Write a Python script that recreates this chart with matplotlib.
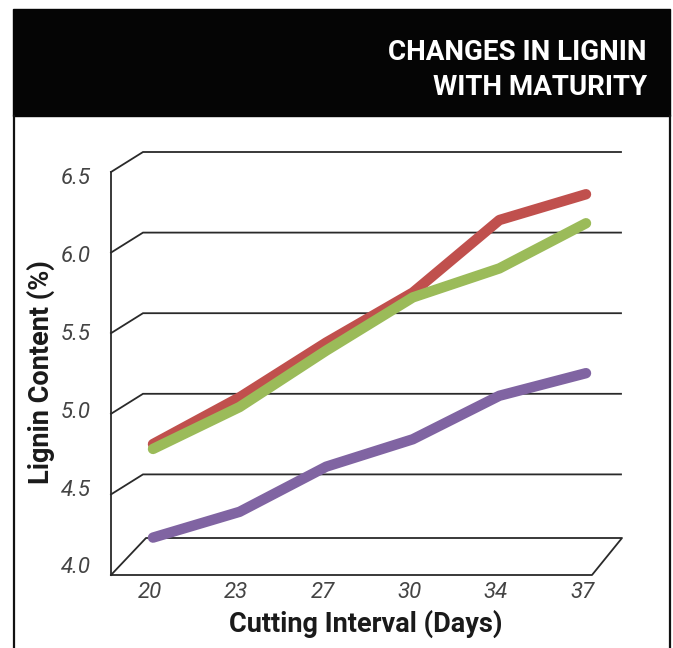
import matplotlib
matplotlib.use("Agg")
import matplotlib.pyplot as plt
from matplotlib.patches import Rectangle
from matplotlib.lines import Line2D

# ---- data ----
intervals = ["20", "23", "27", "30", "34", "37"]
red_vals = [4.75, 5.04, 5.38, 5.69, 6.14, 6.30]
green_vals = [4.72, 4.98, 5.33, 5.66, 5.84, 6.12]
purple_vals = [4.17, 4.33, 4.61, 4.78, 5.05, 5.19]
yticks = [4.0, 4.5, 5.0, 5.5, 6.0, 6.5]
title_lines = ["CHANGES IN LIGNIN", "WITH MATURITY"]
xlabel = "Cutting Interval (Days)"
ylabel = "Lignin Content (%)"

W, H = 673, 648
fig = plt.figure(figsize=(W / 100, H / 100), dpi=100)
fig.patch.set_facecolor("white")

BOLD = ["Liberation Sans Narrow", "Roboto", "DejaVu Sans"]
TICK = ["Roboto", "DejaVu Sans"]

# pixel mapping for the (mid-depth) data plane
x0_px, dx_px = 153.0, 86.6       # x pixel of category 0, px per category
y4_px, dy_px = 565.0, 161.2      # y pixel of value 4.0, px per unit
xlim = (-0.6, 5.6)
ylim = (3.85, 6.65)
left_px = x0_px + xlim[0] * dx_px
right_px = x0_px + xlim[1] * dx_px
bot_px = y4_px - (ylim[0] - 4.0) * dy_px
top_px = y4_px - (ylim[1] - 4.0) * dy_px
ax = fig.add_axes([left_px / W, (H - bot_px) / H,
                   (right_px - left_px) / W, (bot_px - top_px) / H])
ax.set_xlim(*xlim)
ax.set_ylim(*ylim)
ax.axis("off")

# depth offsets (data units)
fx = -3.5 / dx_px                 # front plane shift
fy = -10.0 / dy_px
by = 10.0 / dy_px                 # back plane shift
x_front_left = (111 - x0_px) / dx_px
x_back_left = (143 - x0_px) / dx_px
x_back_right = (621 - x0_px) / dx_px
x_floor_front_right = (592 - x0_px) / dx_px
x_floor_back_right = (622 - x0_px) / dx_px
x_floor_back_left = (146 - x0_px) / dx_px
floor_back = 4.0 + (y4_px - 538) / dy_px

gc = "#2a2a2a"
glw = 1.3
# wall grid
for v in yticks[1:]:
    ax.plot([x_front_left, x_back_left, x_back_right],
            [v + fy, v + by, v + by], color=gc, lw=glw,
            solid_joinstyle="miter", clip_on=False, zorder=1)
# floor
ax.plot([x_front_left, x_floor_front_right, x_floor_back_right, x_floor_back_left, x_front_left],
        [4.0 + fy, 4.0 + fy, floor_back, floor_back, 4.0 + fy],
        color=gc, lw=glw, clip_on=False, zorder=1)
# front-left vertical axis
ax.plot([x_front_left, x_front_left], [4.0 + fy, 6.5 + fy], color=gc, lw=glw,
        clip_on=False, zorder=1)

# series
xs = list(range(len(intervals)))
for vals, col in [(red_vals, "#C0504D"), (green_vals, "#9BBB59"), (purple_vals, "#8064A2")]:
    ax.plot(xs, vals, color=col, lw=7.5, solid_capstyle="round",
            solid_joinstyle="round", zorder=3, clip_on=False)

# tick labels
for v in yticks:
    yd = 3.9814 + 0.9677 * (v - 4.0)
    ax.text(x_front_left - 20 / dx_px, yd, f"{v:.1f}", ha="right", va="center",
            fontsize=16, style="italic", fontweight="normal", family=TICK,
            color="#444444", clip_on=False)
for i, lab in enumerate(intervals):
    ax.text(i + fx, 4.0 - (593 - y4_px) / dy_px, lab, ha="center", va="center",
            fontsize=16, style="italic", fontweight="normal", family=TICK,
            color="#444444", clip_on=False)

# header bar and frame
fig.add_artist(Rectangle((13 / W, (H - 116) / H), (670 - 13) / W, (116 - 9) / H,
                         transform=fig.transFigure, color="#050505", zorder=0))
for xp in (14, 669.5):
    fig.add_artist(Line2D([xp / W, xp / W], [0, (H - 116) / H],
                          transform=fig.transFigure, color="#111111", lw=1.6))

fig.text(647 / W, (H - 60) / H, title_lines[0], ha="right", va="baseline",
         color="white", fontsize=20, fontweight="bold", family=BOLD)
fig.text(647 / W, (H - 95) / H, title_lines[1], ha="right", va="baseline",
         color="white", fontsize=20, fontweight="bold", family=BOLD)

fig.text(41 / W, (H - 372) / H, ylabel, rotation=90, ha="center", va="center",
         color="#1a1a1a", fontsize=19.5, fontweight="bold", family=BOLD)
fig.text(366 / W, (H - 632) / H, xlabel, ha="center", va="baseline",
         color="#1a1a1a", fontsize=19.5, fontweight="bold", family=BOLD)

fig.savefig("out.png", dpi=100)
